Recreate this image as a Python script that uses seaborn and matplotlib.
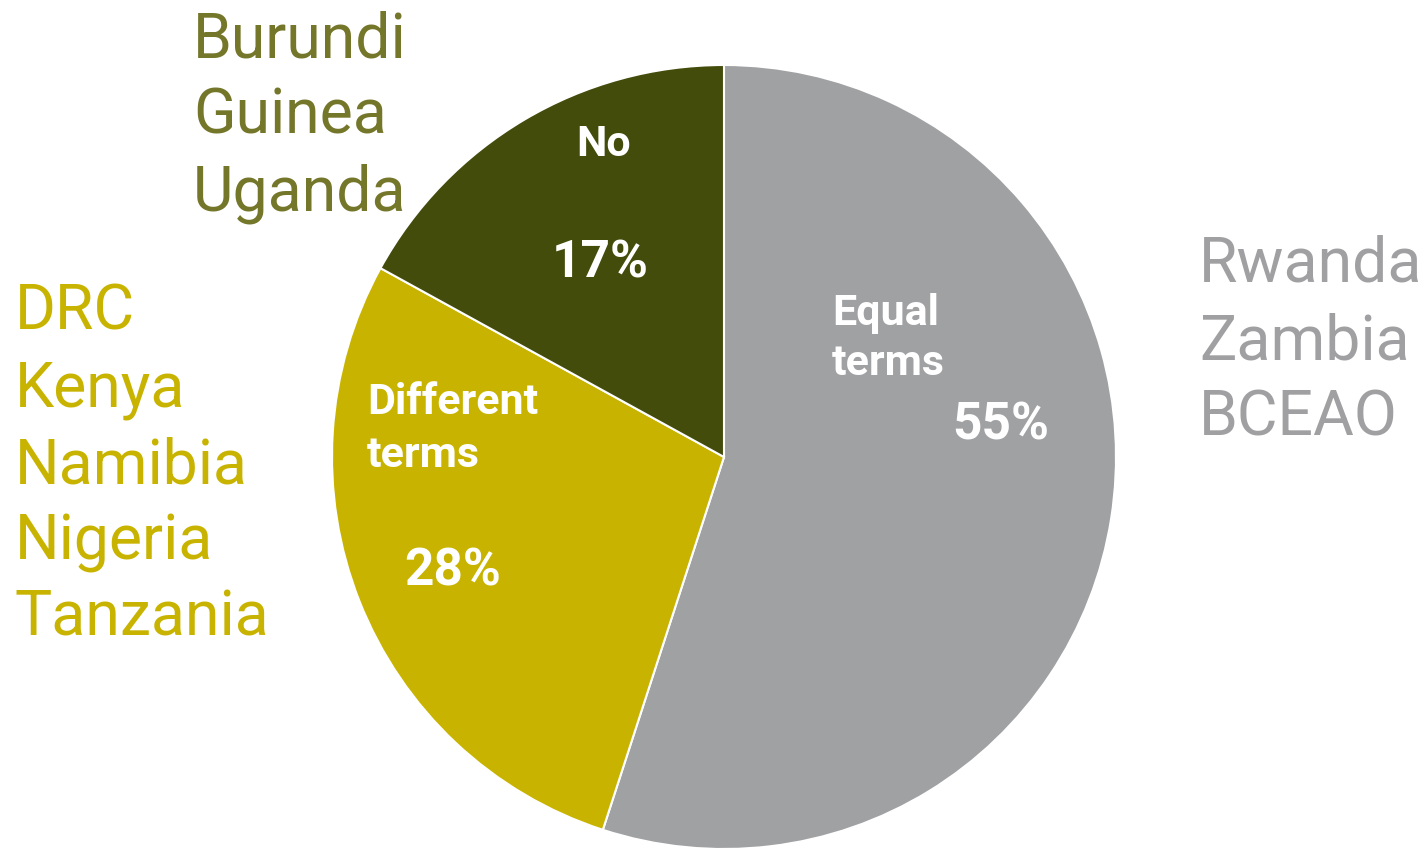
import matplotlib
matplotlib.use("Agg")
import matplotlib.pyplot as plt
import seaborn as sns

# Share of authorities by treatment of terms
categories = ["Equal\nterms", "Different\nterms", "No"]
shares = [55, 28, 17]
slice_colors = ["#A0A1A3", "#C8B400", "#434C0A"]

# Countries grouped by answer
countries_equal = ["Rwanda", "Zambia", "BCEAO"]
countries_different = ["DRC", "Kenya", "Namibia", "Nigeria", "Tanzania"]
countries_no = ["Burundi", "Guinea", "Uganda"]
country_colors = ["#A0A0A2", "#C8B400", "#74762A"]

sns.set_theme(style="white")
plt.rcParams["font.family"] = ["Roboto", "DejaVu Sans"]

W, H = 1427, 852
fig = plt.figure(figsize=(W / 100, H / 100), dpi=100)
ax = fig.add_axes([0, 0, 1, 1])

ax.pie(
    shares,
    colors=slice_colors,
    startangle=90,
    counterclock=False,
    center=(724, H - 457),
    radius=392,
    wedgeprops=dict(edgecolor="white", linewidth=1.5),
)
ax.set_xlim(0, W)
ax.set_ylim(0, H)
ax.set_aspect("equal")
ax.axis("off")


def px(y):
    return H - y


# Category names and percentages inside the slices
name_kw = dict(color="white", fontsize=31, fontweight="bold")
pct_kw = dict(color="white", fontsize=37, fontweight="bold")

# Equal terms
for i, line in enumerate(categories[0].split("\n")):
    ax.text(832, px(325 + 50 * i), line, ha="left", va="baseline", **name_kw)
ax.text(1001, px(440), f"{shares[0]}%", ha="center", va="baseline", **pct_kw)

# Different terms
for i, line in enumerate(categories[1].split("\n")):
    ax.text(367, px(414 + 53 * i), line, ha="left", va="baseline", **name_kw)
ax.text(453, px(585), f"{shares[1]}%", ha="center", va="baseline", **pct_kw)

# No
ax.text(604, px(156), categories[2], ha="center", va="baseline", **name_kw)
ax.text(600, px(278), f"{shares[2]}%", ha="center", va="baseline", **pct_kw)

# Country lists next to the pie
step = 77
for i, c in enumerate(countries_no):
    ax.text(193, px(57 + step * i), c, ha="left", va="baseline",
            fontsize=45, color=country_colors[2])
for i, c in enumerate(countries_different):
    ax.text(15, px(330 + 76.5 * i), c, ha="left", va="baseline",
            fontsize=45, color=country_colors[1])
for i, c in enumerate(countries_equal):
    ax.text(1199, px(282 + step * i), c, ha="left", va="baseline",
            fontsize=45, color=country_colors[0])

fig.savefig("out.png", dpi=100, facecolor="white")
